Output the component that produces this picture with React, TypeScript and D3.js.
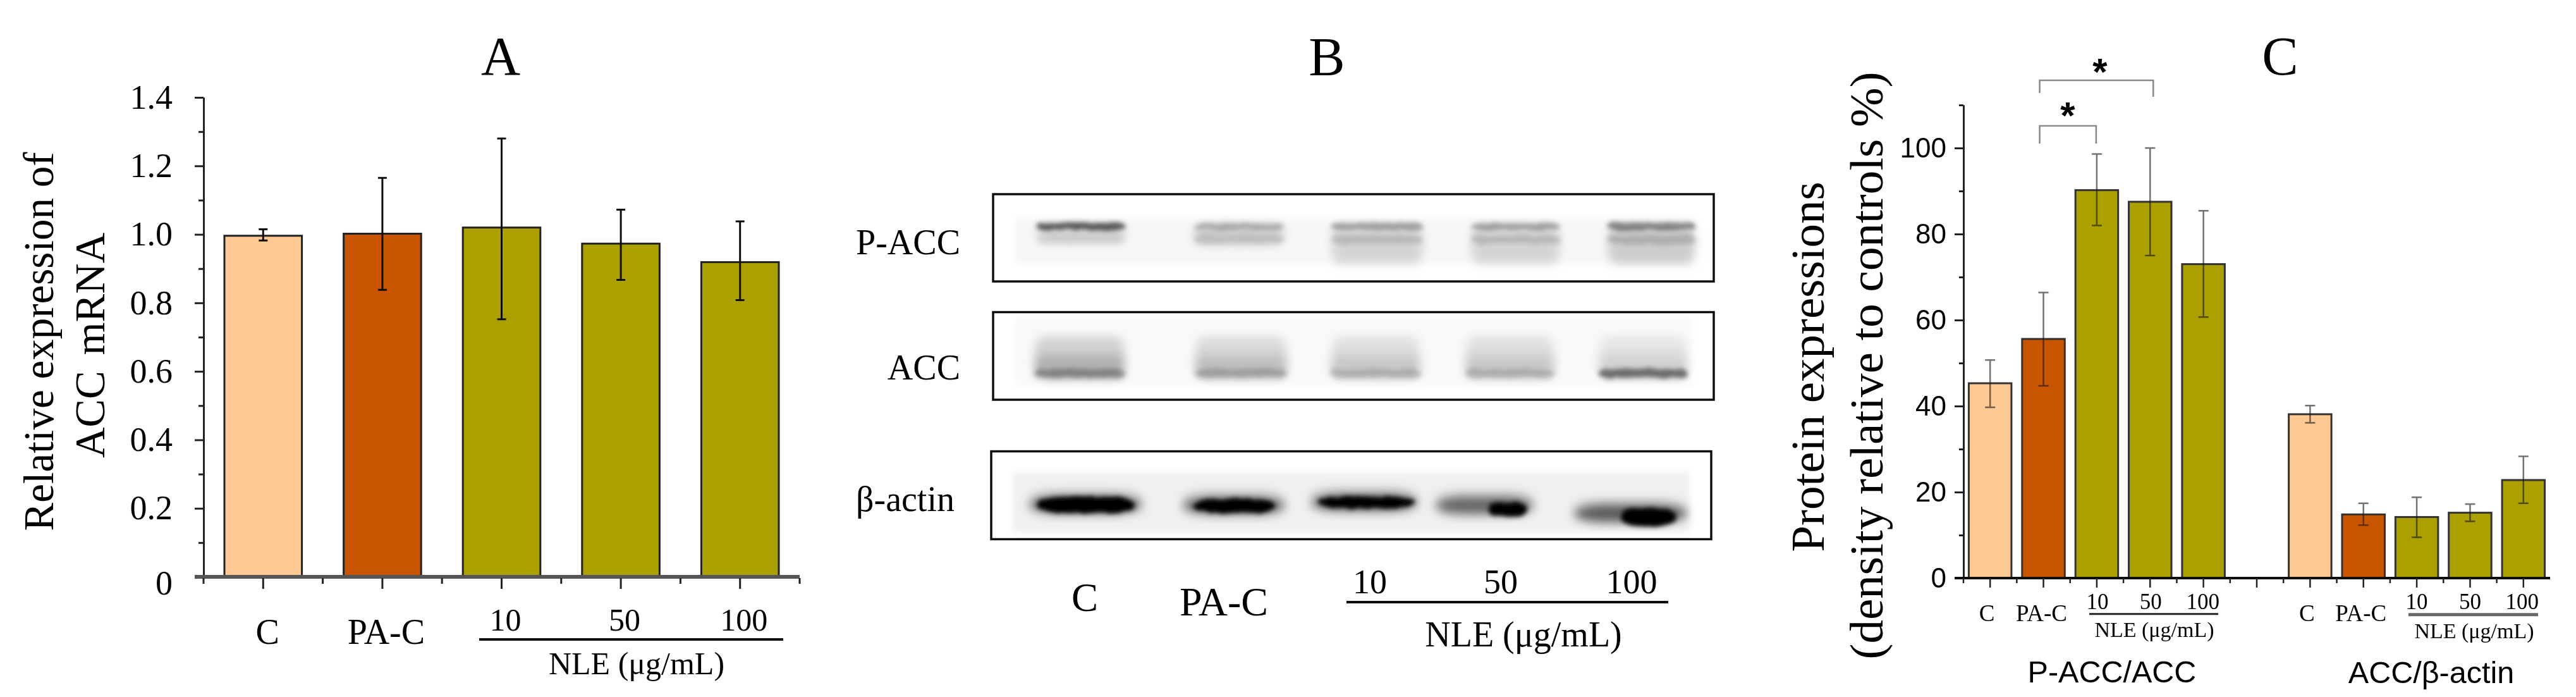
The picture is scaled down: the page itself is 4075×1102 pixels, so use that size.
import React, { useEffect, useRef } from 'react';
import * as d3 from 'd3';

const WIDTH = 4075;
const HEIGHT = 1102;
const SERIF = '"Liberation Serif", serif';
const SANS = '"Liberation Sans", sans-serif';

const groups = ['C', 'PA-C', '10', '50', '100'];
const peach = '#FFC994';
const rust = '#C95500';
const olive = '#ABA000';
const barColors = [peach, rust, olive, olive, olive];

// panel A
const mrnaMean = [0.996, 1.002, 1.02, 0.973, 0.919];
const mrnaUpper = [1.015, 1.165, 1.28, 1.072, 1.038];
const mrnaLower = [0.982, 0.838, 0.752, 0.867, 0.808];
const mrnaTicks = [0, 0.2, 0.4, 0.6, 0.8, 1.0, 1.2, 1.4];
const mrnaMinor = [0.1, 0.3, 0.5, 0.7, 0.9, 1.1, 1.3];

// panel C
const pAccMean = [45.3, 55.6, 90.2, 87.5, 73];
const pAccUpper = [50.7, 66.4, 98.6, 100, 85.4];
const pAccLower = [39.7, 44.7, 82, 75, 60.7];
const accMean = [38.1, 14.8, 14.2, 15.2, 22.8];
const accUpper = [40.1, 17.4, 18.8, 17.2, 28.3];
const accLower = [36.1, 12.3, 9.5, 13.2, 17.4];
const proteinTicks = [0, 20, 40, 60, 80, 100];
const proteinMinor = [10, 30, 50, 70, 90, 110];

// panel B, lane centres and widths in % of the membrane, density 0..1
const pAccLane = [12.2, 34.1, 53.3, 72.5, 91.4];
const pAccLaneWidth = [12.3, 12.5, 12.7, 12.3, 12.2];
const pAccLine = [0.6, 0.22, 0.28, 0.28, 0.4];
const pAccSecond = [0.05, 0.1, 0.13, 0.13, 0.15];
const pAccSmear = [0.14, 0.16, 0.14, 0.14, 0.17];
const pAccSmearDepth = [56, 58, 80, 80, 80];

const accLane = [12, 34.4, 53.1, 71.7, 90.2];
const accLaneWidth = [12.5, 12.8, 12.4, 12.4, 12.3];
const accLine = [0.3, 0.2, 0.16, 0.16, 0.5];
const accSmear = [0.26, 0.2, 0.17, 0.17, 0.14];

const actinLane = [13.1, 33.7, 51.8, 68.5, 88.8];
const actinLaneWidth = [15.5, 14.1, 14.7, 13.5, 15.6];
const actinHalo = [0.6, 0.55, 0.55, 0.55, 0.6];
const actinHaloDepth = [61, 62, 58.5, 62, 71];
const actinCore = [13.1, 33.7, 52.2, 71.7, 91.3];
const actinCoreWidth = [13.4, 11.4, 13.4, 5.4, 7.6];
const actinCoreDepth = [61, 62, 58, 66, 75];
const actinCoreHeight = [18, 15, 13, 15, 20];

const grey = d3.scaleLinear<string>().domain([0, 1]).range(['#ffffff', '#000000']);

type Sel = d3.Selection<any, any, any, any>;

function label(g: Sel, str: string, x: number, y: number, size: number, family = SERIF, anchor = 'middle') {
    return g.append('text')
        .attr('x', x).attr('y', y)
        .attr('font-size', size).attr('font-family', family)
        .attr('text-anchor', anchor).attr('fill', '#000')
        .text(str);
}

function vertical(g: Sel, str: string, x: number, y: number, size: number) {
    return label(g, str, 0, 0, size).attr('transform', `translate(${x},${y}) rotate(-90)`);
}

function hline(g: Sel, x1: number, x2: number, y: number, w: number, color = '#111') {
    g.append('line').attr('x1', x1).attr('x2', x2).attr('y1', y).attr('y2', y)
        .attr('stroke', color).attr('stroke-width', w);
}

function drawYAxis(g: Sel, y: d3.ScaleLinear<number, number>, x0: number, major: number[], minor: number[],
    fmt: (d: number) => string, size: number, family: string, pad: number, majorLen: number, minorLen: number, w: number) {
    const ax = g.append('g').attr('transform', `translate(${x0},0)`);
    ax.call(d3.axisLeft(y).tickValues(major).tickSize(majorLen).tickSizeOuter(0).tickPadding(pad).tickFormat(fmt as any));
    ax.attr('font-size', size).attr('font-family', family);
    const ax2 = g.append('g').attr('transform', `translate(${x0},0)`);
    ax2.call(d3.axisLeft(y).tickValues(minor).tickSize(minorLen).tickSizeOuter(0).tickFormat(() => ''));
    g.selectAll('.domain, .tick line').attr('stroke', '#222').attr('stroke-width', w);
    ax.selectAll('text').attr('fill', '#000');
    return ax;
}

function drawBars(g: Sel, x: d3.ScaleBand<number>, y: d3.ScaleLinear<number, number>, ids: number[], mean: number[],
    upper: number[], lower: number[], barStroke: string, barW: number, errColor: string, errW: number, cap: number) {
    ids.forEach((id, i) => {
        g.append('rect')
            .attr('x', x(id)!).attr('y', y(mean[i]))
            .attr('width', x.bandwidth()).attr('height', y(0) - y(mean[i]))
            .attr('fill', barColors[i]).attr('stroke', barStroke).attr('stroke-width', barW);
    });
    ids.forEach((id, i) => {
        const cx = x(id)! + x.bandwidth() / 2;
        const p = `M${cx - cap},${y(upper[i])}H${cx + cap}M${cx},${y(upper[i])}V${y(lower[i])}M${cx - cap},${y(lower[i])}H${cx + cap}`;
        g.append('path').attr('d', p).attr('fill', 'none').attr('stroke', errColor).attr('stroke-width', errW);
    });
}

function drawMembrane(g: Sel, x0: number, x1: number, y0: number, y1: number, haze: number, hazeTop: number, hazeBottom: number) {
    const x = d3.scaleLinear().domain([0, 100]).range([x0, x1]);
    const y = d3.scaleLinear().domain([0, 100]).range([y0, y1]);
    const band = (centre: number, w: number, depth: number, h: number, density: number, filter: string, round = 0.08) => {
        g.append('rect')
            .attr('x', x(centre - w / 2)).attr('y', y(depth - h / 2))
            .attr('width', x(w) - x(0)).attr('height', y(h) - y(0))
            .attr('rx', (x(w) - x(0)) * round).attr('ry', (y(h) - y(0)) * 0.45)
            .attr('fill', grey(density)).attr('filter', `url(#${filter})`)
            .style('mix-blend-mode', 'multiply');
    };
    g.append('rect').attr('x', x(3)).attr('width', x(94) - x(0))
        .attr('y', y(hazeTop)).attr('height', y(hazeBottom) - y(hazeTop))
        .attr('fill', grey(haze)).attr('filter', 'url(#soft)');
    return band;
}

function drawBlotBox(g: Sel, x0: number, x1: number, y0: number, y1: number) {
    g.append('rect').attr('x', x0).attr('y', y0).attr('width', x1 - x0).attr('height', y1 - y0)
        .attr('fill', 'none').attr('stroke', '#111').attr('stroke-width', 3.5);
}

function drawPanelA(g: Sel) {
    const ids = d3.range(5);
    const x = d3.scaleBand<number>().domain(ids).range([322, 1265]).paddingInner(0.35).paddingOuter(0.175);
    const y = d3.scaleLinear().domain([0, 1.4]).range([912, 154]);
    const cx = (i: number) => x(i)! + x.bandwidth() / 2;

    label(g, 'A', 792, 118, 86);
    const ax = drawYAxis(g, y, 322, mrnaTicks, mrnaMinor, d => (d === 0 ? '0' : d.toFixed(1)), 54, SERIF, 35, 14, 8, 3);
    ax.selectAll('.tick text').filter((d: any) => d === 0).attr('dy', '0.5em');

    drawBars(g, x, y, ids, mrnaMean, mrnaUpper, mrnaLower, '#222', 3, '#111', 3, 7);

    // baseline with ticks hanging under the bars
    hline(g, 308, 1265, 912, 6, '#555');
    const xAxis = g.append('g').attr('transform', 'translate(0,914)');
    xAxis.selectAll('path').data(ids).join('path')
        .attr('d', d => `M${cx(d)},0V17`).attr('stroke', '#222').attr('stroke-width', 3);
    const minorX = [...ids.map(d => x(d)! - x.step() * 0.175), x.range()[1]];
    xAxis.selectAll('line').data(minorX).join('line')
        .attr('x1', d => d).attr('x2', d => d)
        .attr('y1', 0).attr('y2', 9).attr('stroke', '#222').attr('stroke-width', 3);

    label(g, groups[0], cx(0) + 7, 1018, 56);
    label(g, groups[1], cx(1) + 6, 1018, 56);
    groups.slice(2).forEach((s, i) => label(g, s, cx(i + 2) + 6, 997, 50));
    hline(g, 758, 1239, 1011, 4);
    label(g, 'NLE (μg/mL)', 1007, 1066, 50);

    vertical(g, 'Relative expression of', 84, 540, 67);
    vertical(g, 'ACC mRNA', 165, 546, 67).attr('word-spacing', 8);
}

function drawPanelB(g: Sel) {
    label(g, 'B', 2099, 119, 86);
    label(g, 'P-ACC', 1519, 402, 56, SERIF, 'end');
    label(g, 'ACC', 1519, 600, 56, SERIF, 'end');
    label(g, 'β-actin', 1354, 808, 56, SERIF, 'start');

    const top = drawMembrane(g, 1571, 2711, 307, 445, 0.03, 28, 80);
    pAccLane.forEach((c, i) => {
        top(c, pAccLaneWidth[i], (34 + pAccSmearDepth[i]) / 2, pAccSmearDepth[i] - 34, pAccSmear[i], 'blur');
        top(c, pAccLaneWidth[i], 52, 10, pAccSecond[i], 'rough');
        top(c, pAccLaneWidth[i], 37, 8, pAccLine[i], 'rough');
    });
    drawBlotBox(g, 1571, 2711, 307, 445);

    const mid = drawMembrane(g, 1571, 2711, 493.5, 632, 0.025, 4, 84);
    accLane.forEach((c, i) => {
        mid(c, accLaneWidth[i], 52, 48, accSmear[i] * 0.6, 'blur');
        mid(c, accLaneWidth[i], 62, 26, accSmear[i] * 0.6, 'blur');
        mid(c, accLaneWidth[i], 70, 10, accLine[i], 'rough');
    });
    drawBlotBox(g, 1571, 2711, 493.5, 632);

    const low = drawMembrane(g, 1568, 2707, 713.6, 852.5, 0.06, 24, 92);
    actinLane.forEach((c, i) => {
        low(c, actinLaneWidth[i], actinHaloDepth[i] - 8, 20, 0.1, 'blur', 0.3);
        low(c, actinLaneWidth[i], actinHaloDepth[i], 20, actinHalo[i], 'blur', 0.3);
    });
    actinCore.forEach((c, i) => {
        low(c, actinCoreWidth[i], actinCoreDepth[i], actinCoreHeight[i], 1, 'rough', 0.3);
    });
    drawBlotBox(g, 1568, 2707, 713.6, 852.5);

    label(g, 'C', 1716, 966, 63);
    label(g, 'PA-C', 1936, 973, 64);
    const lanes = d3.scalePoint<string>().domain(groups.slice(2)).range([2167, 2581]);
    groups.slice(2).forEach(s => label(g, s, lanes(s)!, 938, 54));
    hline(g, 2130, 2639, 952, 4);
    label(g, 'NLE (μg/mL)', 2410, 1022, 56);
}

function drawPanelC(g: Sel) {
    const ids = d3.range(11);
    const x = d3.scaleBand<number>().domain(ids).range([3106, 4034]).paddingInner(0.2).paddingOuter(0.1);
    const y = d3.scaleLinear().domain([0, 110]).range([914, 166]);
    const cx = (i: number) => x(i)! + x.bandwidth() / 2;

    label(g, 'C', 3607, 118, 86);
    drawYAxis(g, y, 3106, proteinTicks, proteinMinor, d => String(d), 44, SANS, 13, 14, 7, 3);

    drawBars(g, x, y, d3.range(5), pAccMean, pAccUpper, pAccLower, '#333', 3, 'rgba(20,20,20,0.6)', 2.5, 8);
    drawBars(g, x, y, d3.range(6, 11), accMean, accUpper, accLower, '#333', 3, 'rgba(20,20,20,0.6)', 2.5, 8);

    hline(g, 3092, 4034, 914, 4, '#111');
    const xAxis = g.append('g').attr('transform', 'translate(0,914)');
    xAxis.selectAll('path').data(ids).join('path')
        .attr('d', d => `M${cx(d)},0V15`).attr('stroke', '#222').attr('stroke-width', 2.5);
    xAxis.selectAll('line').data(ids).join('line')
        .attr('x1', d => x(d)! - x.step() * 0.1).attr('x2', d => x(d)! - x.step() * 0.1)
        .attr('y1', 0).attr('y2', 8).attr('stroke', '#222').attr('stroke-width', 2.5);

    const xLabels = (start: number, nudge: number[], line: string, lineW: number, lineY: number, nleY: number, lx: number[]) => {
        groups.slice(0, 2).forEach((s, i) => label(g, s, cx(start + i) + nudge[i], 982, 37));
        groups.slice(2).forEach((s, i) => label(g, s, cx(start + i + 2) + nudge[i + 2], 963, 35));
        hline(g, lx[0], lx[1], lineY, lineW, line);
        label(g, 'NLE (μg/mL)', lx[2], nleY, 34);
    };
    xLabels(0, [-5, -3, 1, 1, -1], '#222', 3, 970.7, 1007, [3305, 3509, 3408]);
    xLabels(6, [-5, -4, 0, 0, -2], '#666', 5, 971.7, 1009, [3810, 4015, 3914]);

    label(g, 'P-ACC/ACC', 3341, 1079, 48.5, SANS);
    label(g, 'ACC/β-actin', 3846, 1080, 48.5, SANS);

    vertical(g, 'Protein expressions', 2885, 580, 75);
    vertical(g, '(density relative to controls %)', 2978, 578, 75);

    // significance brackets
    const bracket = (x1: number, x2: number, yTop: number, leg1: number, leg2: number) => {
        g.append('path').attr('d', `M${x1},${leg1}V${yTop}H${x2}V${leg2}`)
            .attr('fill', 'none').attr('stroke', '#888').attr('stroke-width', 2.5);
    };
    bracket(cx(1) - 6, cx(3) + 5, 127, 147, 153);
    bracket(cx(1) - 6, cx(2) - 1, 199, 227, 227);
    label(g, '*', 3322, 134, 60, SANS).attr('font-weight', 'bold');
    label(g, '*', 3271, 203, 60, SANS).attr('font-weight', 'bold');
}

const App = () => {
    const ref = useRef<SVGSVGElement>(null);

    useEffect(() => {
        const svg = d3.select(ref.current);
        svg.selectAll('*').remove();

        const defs = svg.append('defs');
        defs.append('filter').attr('id', 'image').attr('x', 0).attr('y', 0).attr('width', 1).attr('height', 1)
            .append('feGaussianBlur').attr('stdDeviation', 0.7);
        defs.append('filter').attr('id', 'soft').attr('x', '-5%').attr('y', '-20%').attr('width', '110%').attr('height', '140%')
            .append('feGaussianBlur').attr('stdDeviation', 5);
        defs.append('filter').attr('id', 'blur').attr('x', '-20%').attr('y', '-50%').attr('width', '140%').attr('height', '200%')
            .append('feGaussianBlur').attr('stdDeviation', 8);
        const rough = defs.append('filter').attr('id', 'rough').attr('x', '-20%').attr('y', '-80%').attr('width', '140%').attr('height', '260%');
        rough.append('feTurbulence').attr('type', 'fractalNoise').attr('baseFrequency', 0.05).attr('numOctaves', 2).attr('seed', 4).attr('result', 'n');
        rough.append('feDisplacementMap').attr('in', 'SourceGraphic').attr('in2', 'n').attr('scale', 7).attr('result', 'd');
        rough.append('feGaussianBlur').attr('in', 'd').attr('stdDeviation', 3.5);

        svg.append('rect').attr('width', WIDTH).attr('height', HEIGHT).attr('fill', '#fff');
        const root = svg.append('g').attr('filter', 'url(#image)');
        root.append('rect').attr('width', WIDTH).attr('height', HEIGHT).attr('fill', '#fff');

        drawPanelA(root.append('g'));
        drawPanelB(root.append('g'));
        drawPanelC(root.append('g'));
    }, []);

    return <svg ref={ref} width={WIDTH} height={HEIGHT} style={{ position: 'absolute', left: 0, top: 0 }} />;
};

export default App;
